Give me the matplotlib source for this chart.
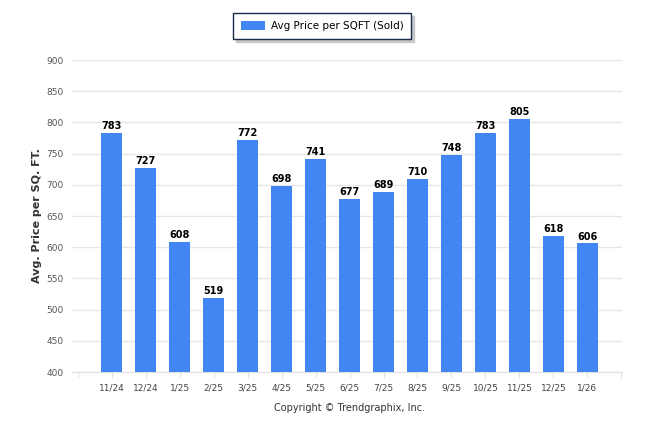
import matplotlib.pyplot as plt

months = ["11/24", "12/24", "1/25", "2/25", "3/25", "4/25", "5/25", "6/25",
          "7/25", "8/25", "9/25", "10/25", "11/25", "12/25", "1/26"]
price_sqft = [783, 727, 608, 519, 772, 698, 741, 677, 689, 710, 748, 783, 805, 618, 606]

bar_color = "#4286f4"

fig = plt.figure(figsize=(6.46, 4.34), dpi=100)
ax = fig.add_axes([72 / 646, 62 / 434, 550 / 646, 312 / 434])

x = list(range(len(months)))
bars = ax.bar(x, price_sqft, width=0.62, color=bar_color, zorder=3,
              label="Avg Price per SQFT (Sold)")

for xi, v in zip(x, price_sqft):
    ax.text(xi, v + 3, str(v), ha="center", va="bottom", fontsize=7,
            fontweight="bold", color="black", zorder=4)

ax.set_ylim(400, 900)
ax.set_yticks(range(400, 901, 50))
ax.set_xlim(-1.17, 15.02)
ax.set_xticks(range(-1, 16))
ax.set_xticklabels([""] + months + [""])

ax.grid(axis="y", color="#e6e6e6", linewidth=1, zorder=0)
for s in ["top", "right", "left"]:
    ax.spines[s].set_visible(False)
ax.spines["bottom"].set_color("#e0e0e0")
ax.tick_params(axis="y", length=0, labelsize=6.5, labelcolor="#555555", pad=6)
ax.tick_params(axis="x", length=4, color="#e0e0e0", labelsize=6.5,
               labelcolor="#444444", pad=4)

ax.set_ylabel("Avg. Price per SQ. FT.", fontsize=8, fontweight="bold",
              color="#333333", labelpad=3)

leg = fig.legend(handles=[bars], loc="center", bbox_to_anchor=(0.4985, 0.940),
                 fontsize=7.5, frameon=True, fancybox=False,
                 shadow={"color": "#c8c8c8", "alpha": 1},
                 edgecolor="#1a2a4a", handlelength=2.3, handleheight=0.95,
                 borderpad=0.75, handletextpad=0.6, borderaxespad=0)
leg.get_frame().set_linewidth(1)

fig.text(350 / 646, 1 - 408 / 434, "Copyright \u00a9 Trendgraphix, Inc.",
         ha="center", va="center", fontsize=7, color="#333333")

fig.savefig("out.png", dpi=100)
